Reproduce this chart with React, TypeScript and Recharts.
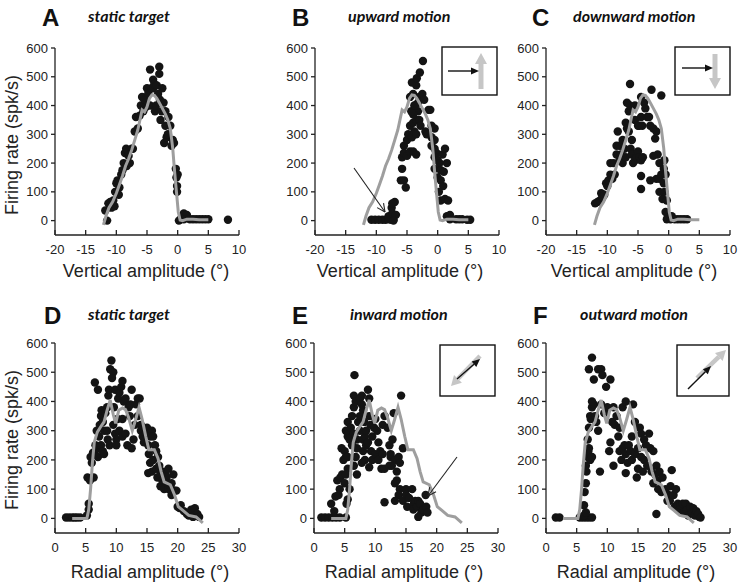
import { ComposedChart, Scatter, Line, XAxis, YAxis } from "recharts"

const FONT = '"Liberation Sans", Arial, sans-serif'
const TITLE_FONT = 'Lato, "Open Sans", sans-serif'

// tick values
const vertTicks = [-20, -15, -10, -5, 0, 5, 10]
const radialTicks = [0, 5, 10, 15, 20, 25, 30]
const rateTicks = [0, 100, 200, 300, 400, 500, 600]

// static-target tuning curves (gray lines), [amplitude, rate]
const staticVertLine: [number, number][] = [
  [-12.1, -15], [-11.7, 15], [-11.2, 45], [-10.6, 65], [-10, 95], [-9.5, 125], [-9, 155],
  [-8.5, 190], [-8, 215], [-7.5, 245], [-7, 280], [-6.5, 315], [-6.1, 355], [-5.8, 385],
  [-5.4, 378], [-5, 395], [-4.6, 425], [-4.2, 437], [-3.8, 435], [-3.4, 425], [-3, 410],
  [-2.5, 390], [-2, 370], [-1.6, 350], [-1.2, 320], [-0.8, 250], [-0.5, 170], [-0.2, 100],
  [0.1, 30], [0.4, 2], [0.8, 0], [1.5, 5], [2.5, 5], [3.5, 3], [5, 3],
]

const staticRadialLine: [number, number][] = [
  [2.8, 0], [5.2, 0], [5.5, 30], [5.8, 100], [6.1, 190], [6.4, 260], [6.9, 295], [7.5, 315],
  [8, 330], [8.5, 370], [9, 405], [9.5, 355], [9.9, 325], [10.4, 370], [11, 378], [11.5, 372],
  [12, 345], [12.6, 300], [13.1, 335], [13.7, 380], [14.2, 340], [14.8, 280], [15.3, 235],
  [16.2, 235], [16.8, 205], [17.3, 160], [17.8, 125], [18.8, 115], [19.5, 80], [20.1, 40],
  [20.8, 28], [21.8, 10], [23, 5], [24.1, -15],
]

// single-trial responses (black dots)
const staticVertDots: [number, number][] = [
  [-11.8, 35], [-11.5, 0], [-11.3, 60], [-11, 65], [-10.8, 45], [-10.5, 70], [-10.3, 50],
  [-10.2, 100], [-10, 130], [-9.8, 140], [-9.5, 115], [-9.6, 90], [-9.2, 160], [-9, 175],
  [-8.8, 200], [-8.6, 235], [-8.4, 250], [-8.2, 245], [-8, 225], [-8.3, 190], [-7.8, 200],
  [-7.5, 250], [-7.3, 250], [-7, 310], [-6.8, 360], [-6.5, 320], [-6.2, 365], [-6, 400],
  [-5.8, 430], [-5.6, 380], [-5.4, 420], [-5.2, 395], [-5, 460], [-4.8, 440], [-4.5, 525],
  [-4.5, 400], [-4.3, 460], [-4, 460], [-4, 490], [-3.8, 475], [-3.7, 380], [-3.5, 400],
  [-3.4, 470], [-3.2, 440], [-3, 535], [-3, 510], [-2.9, 420], [-2.8, 350], [-2.6, 380],
  [-2.5, 460], [-2.3, 410], [-2.2, 270], [-2, 330], [-2, 380], [-1.8, 290], [-1.6, 300],
  [-1.5, 360], [-1.2, 330], [-1, 260], [-0.8, 280], [-0.6, 270], [-0.3, 180], [-0.2, 150],
  [-0.1, 120], [-0.1, 100], [0, 160], [0.2, 0], [0.5, 5], [1, 25], [1.5, 20], [1, 5],
  [2, 5], [2.5, 5], [3, 5], [3.5, 5], [4, 5], [4.5, 5], [5, 5], [8.2, 3],
]

const upwardDots: [number, number][] = [
  [-10.8, 3], [-10.2, 3], [-9.6, 3], [-9, 3], [-8.5, 3], [-8, 5], [-7.6, 3], [-7.2, 3],
  [-8, 15], [-7.4, 25], [-7.5, 45], [-7, 65], [-7.4, 60], [-6.8, 20], [-7.2, 0],
  [-6, 140], [-5.5, 140], [-5.2, 115], [-5.8, 180], [-5.8, 220], [-5.5, 235], [-5, 225],
  [-4.5, 240], [-4, 240], [-3.5, 230], [-5.5, 260], [-5, 280], [-4.8, 300], [-4.2, 290],
  [-3.8, 310], [-3.5, 300], [-4.5, 330], [-4, 340], [-3.5, 350], [-3, 350], [-2.8, 330],
  [-3.2, 380], [-4, 370], [-4.3, 380], [-3.8, 400], [-3.2, 410], [-3, 430], [-4.5, 430],
  [-4, 440], [-3.5, 470], [-4.2, 480], [-3.4, 495], [-2.9, 515], [-2.4, 555], [-3.7, 400],
  [-2.5, 440], [-2.2, 420], [-1.5, 385], [-1.2, 385], [-2, 310], [-1.8, 300], [-1, 330],
  [-0.5, 320], [-1, 260], [-0.5, 250], [-0.2, 235], [-0.5, 220], [0, 210], [0.3, 200],
  [-0.5, 180], [0.5, 175], [0, 150], [0.5, 140], [0.9, 120], [0.2, 100], [0.5, 70],
  [1.2, 75], [1.7, 70], [1.5, 15], [2, 20], [2, 5], [3, 5], [3.5, 5], [4, 5], [5.3, 3],
  [4.8, 3], [-0.5, 280], [-1, 290], [0.8, 230], [1.2, 250], [1.5, 200], [1, 170],
]

const downwardDots: [number, number][] = [
  [-12, 60], [-11.6, 65], [-11.2, 70], [-11, 95], [-10.8, 80], [-10.5, 90], [-10.2, 130],
  [-10, 120], [-9.8, 140], [-9.5, 160], [-9.5, 200], [-9, 200], [-9.2, 145], [-8.8, 160],
  [-8.5, 230], [-8.5, 260], [-8.3, 310], [-8, 260], [-8, 210], [-7.8, 230], [-7.5, 280],
  [-7.5, 200], [-7.2, 250], [-7, 220], [-7, 340], [-6.8, 320], [-6.5, 380], [-6.3, 400],
  [-6.8, 410], [-6.5, 310], [-6.2, 250], [-6, 280], [-6, 230], [-5.8, 200], [-5.5, 210],
  [-5.2, 220], [-5, 240], [-4.8, 220], [-4.5, 210], [-4.2, 220], [-6.3, 475], [-5.5, 350],
  [-5.5, 400], [-5, 330], [-4.8, 330], [-4.5, 360], [-4.3, 330], [-4.5, 430], [-4, 410],
  [-3.8, 390], [-3.5, 360], [-3.2, 360], [-3, 330], [-2.8, 455], [-1.2, 435], [-2.5, 320],
  [-2, 310], [-2.2, 285], [-1.8, 230], [-1.5, 200], [-2.5, 225], [-2, 145], [-1.5, 145],
  [-4.5, 155], [-4.5, 110], [-1.2, 160], [-0.8, 180], [-0.7, 210], [-0.5, 160], [-1, 75],
  [-0.7, 100], [-0.3, 70], [-0.5, 30], [0, 10], [-0.3, 5], [0.3, 5], [0.5, 15], [1, 5],
  [1.5, 5], [2, 5], [2.5, 5], [3, 5], [-1.5, 100], [-0.8, 130], [-3, 140],
]

const staticRadialDots: [number, number][] = [
  [1.8, 3], [2.3, 3], [2.8, 3], [3.2, 3], [3.6, 3], [4.1, 3],
  [5.2, 10], [5.5, 30], [5.5, 50], [5.3, 140], [5.7, 130], [5.8, 210], [6, 190], [6.3, 140],
  [6.5, 220], [6.2, 225], [6.6, 250], [6.8, 300], [6.9, 240], [7, 210], [7.2, 280],
  [7.3, 320], [7.5, 350], [7.6, 370], [7.8, 330], [6.5, 465], [7, 440], [7.5, 250],
  [7.8, 230], [8, 220], [8, 300], [8.2, 360], [8.5, 380], [8.7, 420], [8.8, 440], [8.5, 300],
  [8.6, 270], [8.9, 250], [9, 510], [9.2, 540], [9.5, 500], [9.3, 480], [9.8, 440],
  [9.6, 380], [9.5, 320], [9.8, 290], [10, 270], [10, 250], [10.2, 340], [10.5, 300],
  [10.3, 410], [10.5, 430], [10.8, 450], [11, 470], [11.2, 400], [11.5, 410], [11, 340],
  [11, 280], [11.5, 290], [11.8, 250], [12, 380], [12.2, 350], [12.5, 440], [12.3, 390],
  [12.5, 240], [12.8, 270], [13, 320], [13.2, 390], [13.5, 410], [13.8, 410], [13.5, 350],
  [14, 320], [14, 300], [14.3, 280], [14.5, 260], [14.8, 290], [15, 310], [15.2, 250],
  [15.3, 220], [15.5, 280], [15.8, 300], [16, 280], [16.3, 250], [15.5, 190], [15.2, 155],
  [15.8, 160], [16, 200], [16.5, 230], [16.8, 210], [16.5, 170], [16.7, 140], [17, 180],
  [17.2, 150], [17.2, 110], [17.5, 130], [17.8, 100], [17.6, 160], [18, 150], [18.2, 140],
  [18.5, 170], [18.3, 120], [18.5, 100], [18.8, 110], [19, 120], [19, 80], [19.3, 150],
  [19.5, 95], [19.8, 95], [20, 40], [20.3, 35], [20.5, 45], [21, 25], [21.5, 15], [21.8, 10],
  [22.2, 30], [22.8, 35], [22.5, 5], [23.2, 15], [23.5, 5],
]

const inwardDots: [number, number][] = [
  [1.2, 3], [1.8, 3], [2.4, 3], [3, 3], [3.6, 3], [4.2, 3], [5.2, 3], [3.3, 25], [2.8, 50],
  [3.5, 75], [4, 80], [4.2, 100], [3.8, 130], [4.3, 140], [4.6, 150], [4.5, 240], [5, 230],
  [5.2, 210], [4.8, 200], [5.5, 210], [5.5, 170], [5.2, 150], [5, 120], [5.8, 100],
  [5.5, 65], [5.3, 50], [5.8, 270], [5.5, 280], [5.8, 300], [5.2, 300], [5.5, 330], [6, 310],
  [6.2, 250], [6.5, 380], [6.2, 350], [6.5, 420], [6.6, 490], [6.8, 400], [6.5, 290],
  [7, 270], [7, 240], [6.8, 210], [6.5, 180], [7, 150], [7.2, 330], [7.5, 350], [7.5, 300],
  [7.8, 420], [7.5, 410], [7.8, 390], [8, 370], [8.2, 330], [8, 270], [8.3, 280], [8, 230],
  [8.3, 200], [7.8, 190], [8.5, 250], [8.5, 300], [8.8, 260], [8.8, 440], [9, 410], [9, 350],
  [9.2, 320], [9.5, 280], [9.3, 230], [9.5, 200], [9, 175], [9.8, 310], [10, 340],
  [10.3, 300], [10.5, 260], [10, 220], [10.5, 200], [10.8, 230], [11, 170], [11.2, 320],
  [11.5, 350], [11.2, 220], [11.5, 170], [12, 310], [12.3, 250], [12.5, 210], [12.3, 180],
  [12.8, 270], [13, 360], [12.5, 220], [13.2, 200], [13.5, 160], [13.2, 120], [13.8, 210],
  [14, 190], [14, 100], [13.5, 130], [14.2, 420], [14.5, 240], [13.8, 80], [14.5, 60],
  [15, 100], [15, 80], [15.5, 70], [15.2, 40], [16, 100], [16.3, 50], [16.5, 60], [16.2, 30],
  [16.8, 40], [17, 60], [17.3, 50], [17.5, 20], [17, 5], [17.8, 30], [18.2, 80], [18.3, 40],
  [18.5, 20], [11.5, 55], [13.2, 60], [12.7, 180],
]

const outwardDots: [number, number][] = [
  [1.6, 3], [2.2, 3], [5.5, 3], [6, 3], [6.5, 3], [7, 3], [7.5, 3], [6.2, 10], [6.5, 20],
  [6.2, 45], [6.3, 90], [6.5, 120], [6.6, 160], [6.8, 210], [6.5, 180], [7, 240], [6.8, 270],
  [7, 310], [7.2, 350], [7.5, 380], [7.3, 340], [6.9, 230], [7.2, 200], [7.5, 210],
  [7.8, 390], [8, 350], [7.5, 400], [7.5, 550], [7, 510], [7.8, 475], [8.5, 510], [9, 510],
  [9.2, 490], [9.8, 450], [10.5, 475], [8.2, 330], [8.5, 300], [8.8, 160], [9, 390],
  [9.5, 360], [10, 380], [10.3, 230], [10.5, 260], [10.8, 330], [11, 380], [11, 180],
  [11.5, 350], [11.2, 320], [11.8, 280], [12, 230], [12, 310], [12.5, 240], [12.3, 200],
  [12.5, 380], [13, 400], [12.8, 250], [13, 220], [13, 155], [13.3, 190], [13.5, 250],
  [13.8, 230], [14, 280], [14, 200], [14.2, 390], [14.5, 330], [14.5, 220], [14.8, 140],
  [15, 240], [15, 170], [15.3, 310], [15.5, 290], [15.5, 210], [15.8, 160], [16, 270],
  [16, 200], [16.3, 250], [16.5, 180], [16.8, 290], [17, 240], [17.2, 160], [17.5, 230],
  [17.5, 120], [17.8, 150], [18, 180], [18.2, 130], [18.5, 160], [18.3, 100], [18.8, 90],
  [19, 140], [18, 15], [19.5, 100], [19.8, 60], [20, 80], [20.3, 110], [20.5, 165],
  [20.2, 60], [20.8, 80], [21, 40], [21.2, 100], [21.5, 50], [21.8, 30], [22, 45], [22.5, 20],
  [22.3, 50], [22.8, 50], [23, 30], [23.5, 40], [23.2, 10], [23.8, 20], [24, 35], [24.3, 10],
  [24.5, 25], [25, 5], [24.8, 15], [25.2, 3],
]

const toPts = (arr: [number, number][]) => arr.map(([x, y]) => ({ x, y }))

function XTick(props: any) {
  const { x, y, payload } = props
  return (
    <g>
      <line x1={x} y1={y} x2={x} y2={y - 5} stroke="#222" strokeWidth={1.3} />
      <text x={x} y={y + 19} textAnchor="middle" fontSize={13} fill="#222" fontFamily={FONT}>
        {payload.value}
      </text>
    </g>
  )
}

const Dot = (props: any) => <circle cx={props.cx} cy={props.cy} r={4.2} fill="#141414" />

type PanelProps = {
  plotLeft: number
  plotTop: number
  plotH: number
  xDomain: [number, number]
  xTicks: number[]
  dots: [number, number][]
  curve: [number, number][]
}

function Panel({ plotLeft, plotTop, plotH, xDomain, xTicks, dots, curve }: PanelProps) {
  const plotW = 184
  const yw = 50
  return (
    <div style={{ position: "absolute", left: plotLeft - yw, top: plotTop - 10 }}>
      <ComposedChart
        width={yw + plotW + 12}
        height={10 + plotH + 30}
        margin={{ top: 10, right: 12, left: 0, bottom: 0 }}
      >
        <XAxis
          type="number"
          dataKey="x"
          domain={xDomain}
          ticks={xTicks}
          interval={0}
          allowDataOverflow
          height={30}
          tickSize={0}
          tickMargin={0}
          tickLine={false}
          tick={<XTick />}
          axisLine={{ stroke: "#222", strokeWidth: 1.3 }}
        />
        <YAxis
          type="number"
          dataKey="y"
          domain={[-50, 600]}
          ticks={rateTicks}
          interval={0}
          allowDataOverflow
          width={yw}
          tickSize={4}
          tickMargin={3}
          tick={{ fontSize: 13, fill: "#222", fontFamily: FONT }}
          tickLine={{ stroke: "#222", strokeWidth: 1.3 }}
          axisLine={{ stroke: "#222", strokeWidth: 1.3 }}
        />
        <Scatter data={toPts(dots)} shape={<Dot />} isAnimationActive={false} />
        <Line
          data={toPts(curve)}
          dataKey="y"
          type="linear"
          stroke="#9e9e9e"
          strokeWidth={3}
          dot={false}
          activeDot={false}
          isAnimationActive={false}
          zIndex={700}
        />
      </ComposedChart>
    </div>
  )
}

function Arrow({ x1, y1, x2, y2, color, width, head, half }: any) {
  const a = Math.atan2(y2 - y1, x2 - x1)
  const bx = x2 - head * Math.cos(a)
  const by = y2 - head * Math.sin(a)
  const px = -Math.sin(a) * half
  const py = Math.cos(a) * half
  return (
    <g>
      <line x1={x1} y1={y1} x2={bx} y2={by} stroke={color} strokeWidth={width} />
      <polygon points={`${x2},${y2} ${bx + px},${by + py} ${bx - px},${by - py}`} fill={color} />
    </g>
  )
}

function Pointer({ x1, y1, x2, y2 }: any) {
  const a = Math.atan2(y2 - y1, x2 - x1)
  const L = 9
  const s = 0.45
  return (
    <g stroke="#222" strokeWidth={1.1} fill="none">
      <line x1={x1} y1={y1} x2={x2} y2={y2} />
      <line x1={x2} y1={y2} x2={x2 - L * Math.cos(a - s)} y2={y2 - L * Math.sin(a - s)} />
      <line x1={x2} y1={y2} x2={x2 - L * Math.cos(a + s)} y2={y2 - L * Math.sin(a + s)} />
    </g>
  )
}

const letterStyle = { fontFamily: FONT, fontWeight: 700, fontSize: 24, fill: "#111" }
const titleStyle = { fontFamily: TITLE_FONT, fontWeight: 700, fontStyle: "italic", fontSize: 16, fill: "#111" }
const axisTitleStyle = { fontFamily: FONT, fontSize: 18, fill: "#222" }

function Overlay() {
  const gray = "#c6c6c6"
  return (
    <svg width={739} height={587} style={{ position: "absolute", left: 0, top: 0, pointerEvents: "none" }}>
      <text x={42} y={26} {...letterStyle}>A</text>
      <text x={292} y={26} {...letterStyle}>B</text>
      <text x={532} y={26} {...letterStyle}>C</text>
      <text x={44} y={324} {...letterStyle}>D</text>
      <text x={292} y={324} {...letterStyle}>E</text>
      <text x={533} y={324} {...letterStyle}>F</text>

      <text x={88} y={22} {...(titleStyle as any)}>static target</text>
      <text x={348} y={22} {...(titleStyle as any)}>upward motion</text>
      <text x={573} y={22} {...(titleStyle as any)}>downward motion</text>
      <text x={88} y={320} {...(titleStyle as any)}>static target</text>
      <text x={350} y={320} {...(titleStyle as any)}>inward motion</text>
      <text x={580} y={320} {...(titleStyle as any)}>outward motion</text>

      <text x={146} y={277} textAnchor="middle" {...axisTitleStyle}>Vertical amplitude (°)</text>
      <text x={400} y={277} textAnchor="middle" {...axisTitleStyle}>Vertical amplitude (°)</text>
      <text x={634} y={277} textAnchor="middle" {...axisTitleStyle}>Vertical amplitude (°)</text>
      <text x={150} y={578} textAnchor="middle" {...axisTitleStyle}>Radial amplitude (°)</text>
      <text x={404} y={578} textAnchor="middle" {...axisTitleStyle}>Radial amplitude (°)</text>
      <text x={636} y={578} textAnchor="middle" {...axisTitleStyle}>Radial amplitude (°)</text>

      <text transform="translate(18,145) rotate(-90)" textAnchor="middle" {...axisTitleStyle}>Firing rate (spk/s)</text>
      <text transform="translate(18,440) rotate(-90)" textAnchor="middle" {...axisTitleStyle}>Firing rate (spk/s)</text>

      {/* direction insets */}
      <rect x={442} y={47} width={55} height={48} fill="#fff" stroke="#111" strokeWidth={1.4} />
      <Arrow x1={481} y1={89} x2={481} y2={53} color={gray} width={5} head={11} half={6} />
      <Arrow x1={448} y1={71} x2={479} y2={71} color="#111" width={1.4} head={8} half={3.5} />

      <rect x={675} y={47} width={55} height={48} fill="#fff" stroke="#111" strokeWidth={1.4} />
      <Arrow x1={715} y1={54} x2={715} y2={89} color={gray} width={5} head={11} half={6} />
      <Arrow x1={682} y1={68} x2={713} y2={68} color="#111" width={1.4} head={8} half={3.5} />

      <rect x={440} y={345} width={55} height={51} fill="#fff" stroke="#111" strokeWidth={1.4} />
      <Arrow x1={480} y1={356} x2={451} y2={386} color={gray} width={4.5} head={10} half={5.5} />
      <Arrow x1={457} y1={379} x2={480} y2={359} color="#111" width={1.4} head={8} half={3.5} />

      <rect x={677} y={345} width={52} height={51} fill="#fff" stroke="#111" strokeWidth={1.4} />
      <Arrow x1={697} y1={378} x2={726} y2={350} color={gray} width={4.5} head={10} half={5.5} />
      <Arrow x1={688} y1={389} x2={711} y2={366} color="#111" width={1.4} head={8} half={3.5} />

      {/* pointers */}
      <Pointer x1={354} y1={168} x2={385} y2={212} />
      <Pointer x1={457} y1={457} x2={428} y2={496} />
    </svg>
  )
}

export default function App() {
  return (
    <div style={{ position: "absolute", left: 0, top: 0, width: 739, height: 587, background: "#fff", overflow: "hidden" }}>
      <Panel plotLeft={54.5} plotTop={48} plotH={187} xDomain={[-20, 10]} xTicks={vertTicks} dots={staticVertDots} curve={staticVertLine} />
      <Panel plotLeft={314.5} plotTop={48} plotH={187} xDomain={[-20, 10]} xTicks={vertTicks} dots={upwardDots} curve={staticVertLine} />
      <Panel plotLeft={545.5} plotTop={48} plotH={187} xDomain={[-20, 10]} xTicks={vertTicks} dots={downwardDots} curve={staticVertLine} />
      <Panel plotLeft={54.5} plotTop={343} plotH={190} xDomain={[0, 30]} xTicks={radialTicks} dots={staticRadialDots} curve={staticRadialLine} />
      <Panel plotLeft={314} plotTop={343} plotH={190} xDomain={[0, 30]} xTicks={radialTicks} dots={inwardDots} curve={staticRadialLine} />
      <Panel plotLeft={545.5} plotTop={343} plotH={190} xDomain={[0, 30]} xTicks={radialTicks} dots={outwardDots} curve={staticRadialLine} />
      <Overlay />
    </div>
  )
}
